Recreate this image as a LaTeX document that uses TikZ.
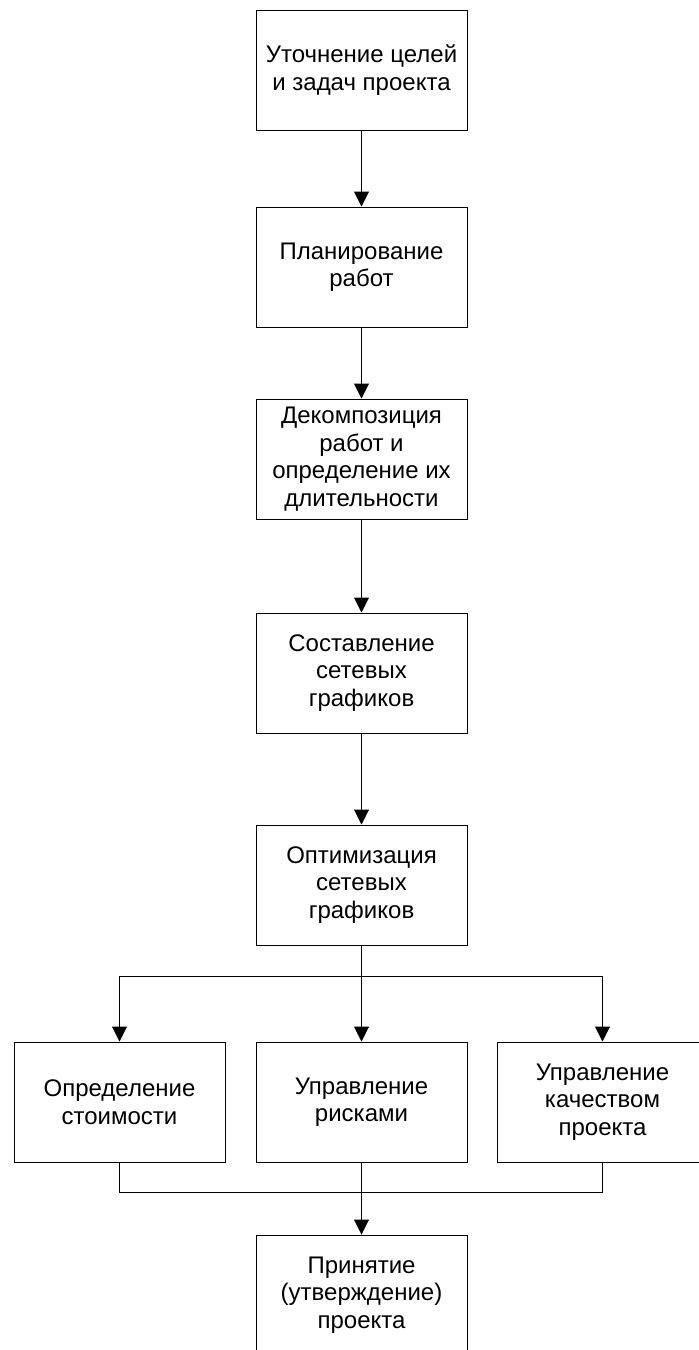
\documentclass[tikz,border=0pt]{standalone}
\usepackage{fontspec}
\setmainfont{Liberation Sans}
\usetikzlibrary{arrows.meta}

\tikzset{
	stagebox/.style={draw=black, line width=1pt, minimum width=211pt, minimum height=120pt,
		inner sep=0pt, align=center, font=\fontsize{24}{27.5}\selectfont},
	flowarrow/.style={line width=1pt, -{Triangle[width=15pt,length=15pt]}},
	flowline/.style={line width=1pt}
}

\begin{document}
\begin{tikzpicture}[x=1pt,y=-1pt]
	\useasboundingbox (0,0) rectangle (699,1350);
	\clip (0,0) rectangle (699,1350);
	% main column
	\node[stagebox] (goals) at (361.5,70) {Уточнение целей\\и задач проекта};
	\node[stagebox] (plan) at (361.5,267) {Планирование\\работ};
	\node[stagebox] (decomp) at (361.5,459) {Декомпозиция\\работ и\\определение их\\длительности};
	\node[stagebox] (netw) at (361.5,673) {Составление\\сетевых\\графиков};
	\node[stagebox] (optim) at (361.5,885) {Оптимизация\\сетевых\\графиков};
	% three branches
	\node[stagebox] (cost) at (119.5,1102) {Определение\\стоимости};
	\node[stagebox] (risk) at (361.5,1102) {Управление\\рисками};
	\node[stagebox] (qual) at (602.5,1102) {Управление\\качеством\\проекта};
	\node[stagebox] (accept) at (361.5,1295) {Принятие\\(утверждение)\\проекта};
	\coordinate (split) at (361.5,976);
	\coordinate (merge) at (361.5,1192);
	\draw[flowarrow] (goals) -- (plan);
	\draw[flowarrow] (plan) -- (decomp);
	\draw[flowarrow] (decomp) -- (netw);
	\draw[flowarrow] (netw) -- (optim);
	\draw[flowline] (optim) -- (split);
	\draw[flowline] (split -| cost) -- (split -| qual);
	\draw[flowarrow] (split -| cost) -- (cost);
	\draw[flowarrow] (split) -- (risk);
	\draw[flowarrow] (split -| qual) -- (qual);
	\draw[flowline] (cost) -- (merge -| cost) -- (merge -| qual) -- (qual);
	\draw[flowline] (risk) -- (merge);
	\draw[flowarrow] (merge) -- (accept);
\end{tikzpicture}
\end{document}
